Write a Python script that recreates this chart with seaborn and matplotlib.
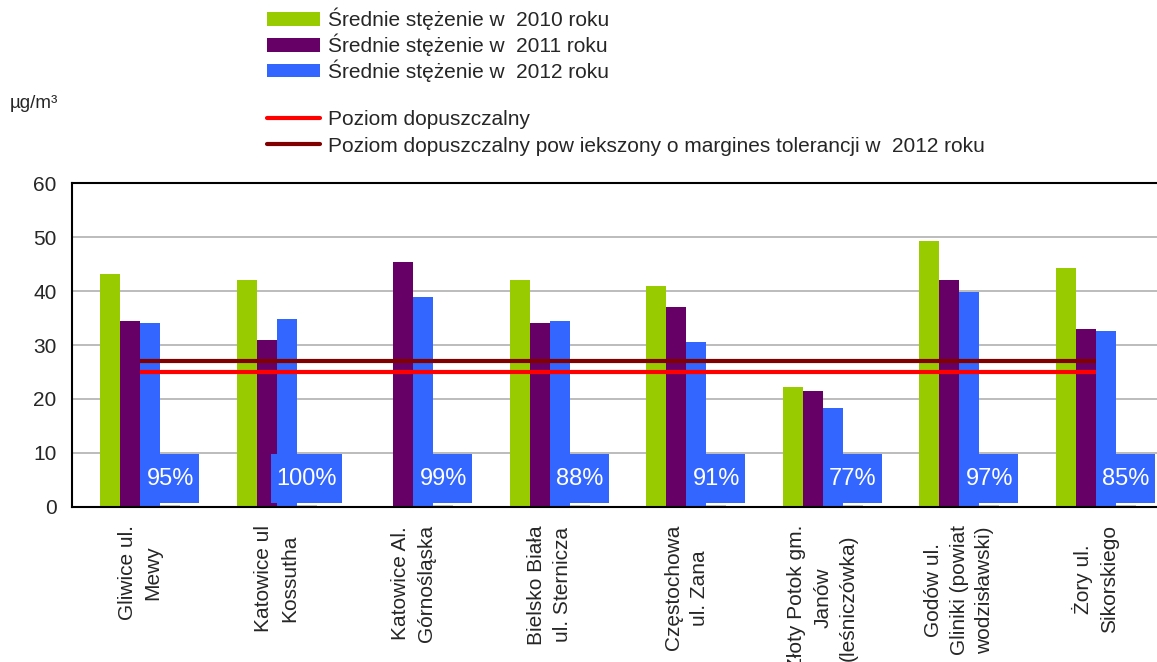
import pandas as pd
import numpy as np
import matplotlib
matplotlib.use('Agg')
import matplotlib.pyplot as plt
import seaborn as sns
from matplotlib.patches import Patch
from matplotlib.lines import Line2D
from matplotlib.path import Path

# Stations (tick labels)
stations = [
    "Gliwice ul.\nMewy",
    "Katowice ul\nKossutha",
    "Katowice Al.\nGórnośląska",
    "Bielsko Biała\nul. Sternicza",
    "Częstochowa\nul. Zana",
    "Złoty Potok gm.\nJanów\n(leśniczówka)",
    "Godów ul.\nGliniki (powiat\nwodzisławski)",
    "Żory ul.\nSikorskiego",
]

# Mean concentrations (µg/m3)
mean_2010 = [43.1, 42.1, 0.0, 42.1, 41.0, 22.2, 49.3, 44.2]
mean_2011 = [34.5, 30.9, 45.3, 34.1, 37.0, 21.5, 42.1, 33.0]
mean_2012 = [34.1, 34.8, 38.8, 34.5, 30.5, 18.3, 39.8, 32.6]
# fourth (label) series - almost zero, carries the percentage labels
pct_series = [0.4, 0.4, 0.4, 0.4, 0.4, 0.4, 0.4, 0.4]
pct_labels = [95, 100, 99, 88, 91, 77, 97, 85]

# Limit values
limit_value = [25, 25, 25, 25, 25, 25, 25, 25]
limit_tolerance_2012 = [27, 27, 27, 27, 27, 27, 27, 27]

series_names = ["Średnie stężenie w  2010 roku", "Średnie stężenie w  2011 roku",
                "Średnie stężenie w  2012 roku", "pct"]
colors = ["#99CC00", "#660066", "#3366FF", "#C8C8C8"]

# Long table for seaborn
df = pd.DataFrame({
    "station": stations * 4,
    "series": [s for s in series_names for _ in stations],
    "value": mean_2010 + mean_2011 + mean_2012 + pct_series,
})


# box for the percent labels: wider vertical padding than horizontal
def pct_box(x0, y0, width, height, mutation_size):
    padx = 0.23 * mutation_size
    pady = 0.57 * mutation_size
    x0, y0 = x0 - padx, y0 - pady
    x1, y1 = x0 + width + 2 * padx, y0 + height + 2 * pady
    return Path([(x0, y0), (x1, y0), (x1, y1), (x0, y1), (x0, y0)], closed=True)


sns.set_style('white')
plt.rcParams['font.family'] = ['Liberation Sans', 'DejaVu Sans']

fig = plt.figure(figsize=(11.57, 6.62), dpi=100)
ax = fig.add_axes([72 / 1157, 1 - 507 / 662, 1092 / 1157, 324 / 662])

sns.barplot(data=df, x="station", y="value", hue="series", order=stations,
            hue_order=series_names, palette=colors, width=0.586, gap=0,
            saturation=1, linewidth=0, legend=False, ax=ax, zorder=2)

# limit lines from first to last station centre
xs = np.arange(len(stations))
ax.plot(xs, limit_value, color="#FF0000", lw=3, zorder=3, solid_capstyle='butt')
ax.plot(xs, limit_tolerance_2012, color="#800000", lw=3, zorder=3, solid_capstyle='butt')

# percentage labels on the fourth series
for bar, p in zip(ax.containers[3], pct_labels):
    cx = bar.get_x() + bar.get_width() / 2
    ax.text(cx, 5.2, f"{p}%", ha='center', va='center', color='white', fontsize=17,
            zorder=4, bbox=dict(boxstyle=pct_box, facecolor='#3366FF', edgecolor='none'))

# axes
ax.set_xlim(-0.5, len(stations) - 0.5)
ax.set_ylim(0, 60)
ax.set_yticks(range(0, 61, 10))
ax.tick_params(axis='y', labelsize=15, length=5, width=1, direction='out', color='black', pad=6)
ax.yaxis.grid(True, color='#B0B0B0', lw=1.2, zorder=0)
ax.set_axisbelow(True)

ax.set_xticks(np.arange(-0.5, len(stations), 1.0))
ax.set_xticklabels([])
ax.tick_params(axis='x', which='major', length=5, width=1, direction='out', color='black')
ax.set_xticks(xs, minor=True)
ax.set_xticklabels(stations, minor=True, rotation=90, fontsize=15, ha='center', va='top',
                   multialignment='center', linespacing=1.45)
ax.tick_params(axis='x', which='minor', length=0, pad=13)
ax.set_xlabel("")
ax.set_ylabel("")

for side in ['left', 'bottom', 'top']:
    ax.spines[side].set_color('black')
    ax.spines[side].set_linewidth(1.5)
ax.spines['right'].set_visible(False)

# unit label
fig.text(10 / 1157, 1 - 103 / 662, "µg/m³", fontsize=13.5, va='center', ha='left')

# legends: bars on top, limit lines below
bar_handles = [Patch(facecolor=c, edgecolor='none') for c in colors[:3]]
leg1 = fig.legend(bar_handles, series_names[:3], loc='upper left',
                  bbox_to_anchor=(267 / 1157, 1 - 8 / 662),
                  frameon=False, fontsize=15, borderpad=0, borderaxespad=0,
                  handlelength=2.55, handleheight=0.62, handletextpad=0.4, labelspacing=0.15)
line_handles = [Line2D([], [], color="#FF0000", lw=3), Line2D([], [], color="#800000", lw=3)]
line_labels = ["Poziom dopuszczalny",
               "Poziom dopuszczalny pow iekszony o margines tolerancji w  2012 roku"]
fig.legend(line_handles, line_labels, loc='upper left',
           bbox_to_anchor=(267 / 1157, 1 - 110 / 662),
           frameon=False, fontsize=15, borderpad=0, borderaxespad=0,
           handlelength=2.55, handletextpad=0.4, labelspacing=0.36)

plt.savefig("out.png", dpi=100)
